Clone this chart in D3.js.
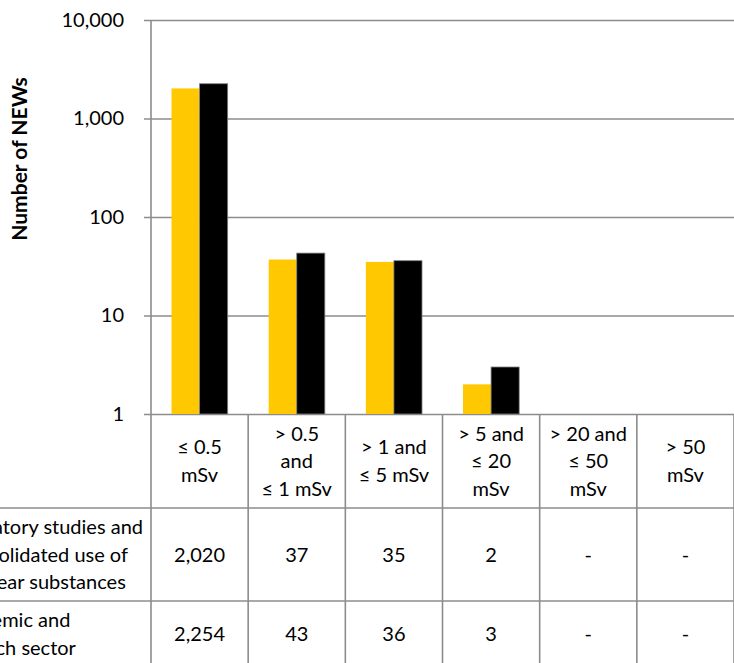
<!DOCTYPE html>
<html>
<head>
<meta charset="utf-8">
<script src="https://cdn.jsdelivr.net/npm/d3@7"></script>
<style>
  body { margin: 0; background: #fff; }
  text { font-family: Lato, "Noto Sans", sans-serif; fill: #000; }
</style>
</head>
<body>
<svg id="chart" width="734" height="663"></svg>
<script>
// Dose bands (column headers of the data table, one entry per line)
const categoryLines = [
  ["≤ 0.5", "mSv"],
  ["> 0.5", "and", "≤ 1 mSv"],
  ["> 1 and", "≤ 5 mSv"],
  ["> 5 and", "≤ 20", "mSv"],
  ["> 20 and", "≤ 50", "mSv"],
  ["> 50", "mSv"]
];

// Series names, wrapped as shown in the table row headers
const seriesLabelLines = [
  ["Laboratory studies and", "consolidated use of", "nuclear substances"],
  ["Academic and", "research sector"]
];

// Number of NEWs per dose band (null = none reported)
const laboratoryValues = [2020, 37, 35, 2, null, null];
const academicValues   = [2254, 43, 36, 3, null, null];

const yTickValues = [1, 10, 100, 1000, 10000];
const seriesColors = ["#FFC800", "#000000"];
const yTitle = "Number of NEWs";

const series = [laboratoryValues, academicValues];

const W = 734, H = 663;
const plot = { left: 151, right: 734, top: 20, bottom: 414 };
const rowEdges = [414, 508, 601, 667];   // header row, series 1 row, series 2 row
const lineGap = 27.7;
const gridColor = "#8c8c8c";
const fontSize = 20;

const svg = d3.select("#chart");

const x0 = d3.scaleBand().domain(d3.range(categoryLines.length))
  .range([plot.left, plot.right]).paddingInner(0).paddingOuter(0);
const groupInset = 20.5;
const x1 = d3.scaleBand().domain(d3.range(series.length))
  .range([groupInset, x0.bandwidth() - groupInset]).padding(0);
const y = d3.scaleLog().domain([1, 10000]).range([plot.bottom, plot.top]);

// Gridlines, tick marks and tick labels
const axisG = svg.append("g")
  .attr("transform", `translate(${plot.left - 7},0)`)
  .call(d3.axisLeft(y)
    .tickValues(yTickValues)
    .tickFormat(d3.format(","))
    .tickSizeInner(-(plot.right - plot.left + 7))
    .tickSizeOuter(0)
    .tickPadding(20));
axisG.select(".domain").remove();
axisG.selectAll(".tick line").attr("stroke", gridColor).attr("stroke-width", 1.6);
axisG.selectAll(".tick text")
  .style("font-family", "Lato, 'Noto Sans', sans-serif")
  .style("font-size", fontSize + "px")
  .attr("fill", "#000");

// Bars
series.forEach((vals, s) => {
  svg.append("g").selectAll("rect")
    .data(vals.map((v, i) => ({ v, i })).filter(d => d.v != null))
    .join("rect")
    .attr("x", d => x0(d.i) + x1(s))
    .attr("width", x1.bandwidth())
    .attr("y", d => y(d.v))
    .attr("height", d => y(1) - y(d.v))
    .attr("fill", seriesColors[s])
    .attr("stroke", s === 1 ? "#7f7f7f" : "none")
    .attr("stroke-width", 0.8);
});

// Vertical axis line
svg.append("line")
  .attr("x1", plot.left).attr("x2", plot.left)
  .attr("y1", plot.top).attr("y2", H)
  .attr("stroke", gridColor).attr("stroke-width", 1.6);

// Table grid: horizontal row separators
svg.append("g").selectAll("line")
  .data(rowEdges.slice(1, 3))
  .join("line")
  .attr("x1", 0).attr("x2", W)
  .attr("y1", d => d).attr("y2", d => d)
  .attr("stroke", gridColor).attr("stroke-width", 1.6);

// Table grid: column separators
svg.append("g").selectAll("line")
  .data(d3.range(1, categoryLines.length + 1))
  .join("line")
  .attr("x1", i => x0(i - 1) + x0.bandwidth())
  .attr("x2", i => x0(i - 1) + x0.bandwidth())
  .attr("y1", plot.bottom).attr("y2", H)
  .attr("stroke", gridColor).attr("stroke-width", 1.6);

// Multi-line centred text helper
function block(g, lines, cx, cy, weight) {
  const n = lines.length;
  lines.forEach((t, k) => {
    g.append("text")
      .attr("x", cx)
      .attr("y", cy + (k - (n - 1) / 2) * lineGap)
      .attr("dy", "0.36em")
      .attr("text-anchor", "middle")
      .style("font-size", fontSize + "px")
      .style("font-weight", weight || 400)
      .text(t);
  });
}

const tableG = svg.append("g");

// Column headers
categoryLines.forEach((lines, i) => {
  block(tableG, lines, x0(i) + x0.bandwidth() / 2, (rowEdges[0] + rowEdges[1]) / 2);
});

// Row headers
const rowLabelCenters = [43, 9];
seriesLabelLines.forEach((lines, s) => {
  block(tableG, lines, rowLabelCenters[s], (rowEdges[s + 1] + rowEdges[s + 2]) / 2);
});

// Table values
const fmt = d3.format(",");
series.forEach((vals, s) => {
  const cy = (rowEdges[s + 1] + rowEdges[s + 2]) / 2;
  vals.forEach((v, i) => {
    block(tableG, [v == null ? "-" : fmt(v)], x0(i) + x0.bandwidth() / 2, cy);
  });
});

// Y axis title
svg.append("text")
  .attr("transform", `translate(27,159) rotate(-90)`)
  .attr("text-anchor", "middle")
  .style("font-size", "21px")
  .style("font-weight", 700)
  .text(yTitle);
</script>
</body>
</html>
